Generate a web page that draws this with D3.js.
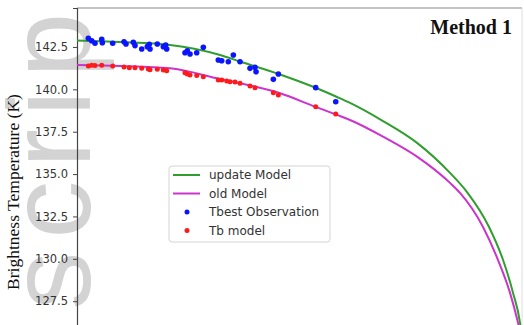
<!DOCTYPE html>
<html>
<head>
<meta charset="utf-8">
<script src="https://cdn.jsdelivr.net/npm/d3@7"></script>
<style>
  body { margin: 0; background: #fff; }
  svg { display: block; }
</style>
</head>
<body>
<svg id="chart" width="524" height="325"></svg>
<script>
// incidence angle (deg) vs brightness temperature (K)
var updateAngle = [0, 8.70, 18.81, 28.92, 32.97, 41.06, 48.14, 52.59, 55.22, 61.89, 68.77, 75.44, 78.88, 83.33, 86.17, 88.19, 89.60, 90];
var updateTb    = [142.88, 142.79, 142.62, 142.03, 141.64, 140.88, 140.11, 139.55, 139.20, 138.13, 136.84, 135.07, 133.94, 131.88, 129.93, 127.99, 126.22, 125.3];

var oldAngle = [0, 8.70, 18.81, 28.92, 32.97, 41.06, 48.14, 52.59, 55.22, 61.89, 68.77, 75.44, 77.46, 82.12, 85.15, 87.58, 89.20, 90];
var oldTb    = [141.44, 141.38, 141.24, 140.61, 140.36, 139.77, 138.98, 138.49, 138.19, 137.21, 136.03, 134.48, 133.89, 131.88, 129.93, 127.99, 126.22, 125.2];

var obsAngle = [2.29, 2.97, 3.64, 5.00, 5.12, 7.22, 9.51, 9.91, 11.39, 11.73, 13.09, 14.22, 14.62, 14.77, 16.24, 17.46, 17.94, 18.14,
                21.84, 22.31, 22.86, 24.21, 25.55, 28.58, 29.27, 30.60, 31.62, 32.97, 34.99, 36.00, 36.21, 39.71, 40.72, 48.28, 52.33];
var obsTb    = [143.01, 142.87, 142.72, 142.95, 142.75, 142.72, 142.81, 142.68, 142.78, 142.58, 142.38, 142.52, 142.66, 142.38, 142.68, 142.52, 142.62, 142.38,
                142.16, 142.28, 142.09, 142.16, 142.48, 141.73, 141.69, 141.63, 142.03, 141.63, 141.24, 141.30, 141.04, 140.59, 140.91, 140.10, 139.27];

var tbAngle = [2.29, 2.97, 3.64, 5.00, 7.22, 9.51, 10.58, 11.73, 13.09, 14.42, 14.77, 16.24, 17.46, 18.14, 21.84, 22.31, 22.86, 24.21,
               25.55, 28.58, 29.27, 30.28, 30.95, 31.96, 32.97, 34.99, 36.00, 39.71, 40.72, 48.28, 52.33];
var tbModel = [141.38, 141.42, 141.40, 141.42, 141.38, 141.32, 141.28, 141.28, 141.24, 141.20, 141.16, 141.18, 141.14, 141.10, 140.98, 140.91, 140.85, 140.81,
               140.75, 140.55, 140.55, 140.49, 140.45, 140.43, 140.36, 140.20, 140.10, 139.80, 139.67, 138.98, 138.55];

var yTicks = [127.5, 130.0, 132.5, 135.0, 137.5, 140.0, 142.5];
var legendLabels = ["update Model", "old Model", "Tbest Observation", "Tb model"];

var svg = d3.select("#chart");
// note: "top" is taken by window.top, so plot edges get a prefix
var plotLeft = 77, plotRight = 522, plotTop = 8, plotBottom = 330;

var x = d3.scaleLinear().domain([0, 90]).range([plotLeft, plotRight]);
var y = d3.scaleLinear().domain([125.8, 144.8]).range([plotBottom, plotTop]);

function zip(a, b) {
    return a.map(function (d, i) { return [d, b[i]]; });
}

//Watermark behind everything
svg.append("text")
    .attr("transform", "translate(90,652) rotate(-90)")
    .attr("font-family", "Liberation Sans, Arial, sans-serif")
    .attr("font-size", 116)
    .attr("letter-spacing", 13)
    .attr("fill", "#d3d3d3")
    .text("Manuscript");

//Frame: top and right sides
svg.append("line")
    .attr("x1", plotLeft).attr("x2", plotRight).attr("y1", plotTop).attr("y2", plotTop)
    .attr("stroke", "#8a8a8a").attr("stroke-width", 1.2);
svg.append("line")
    .attr("x1", plotRight).attr("x2", plotRight).attr("y1", plotTop).attr("y2", 325)
    .attr("stroke", "#dddddd").attr("stroke-width", 1);

//Y axis
var yAxis = svg.append("g")
    .attr("transform", "translate(" + plotLeft + ",0)")
    .call(d3.axisLeft(y).tickValues(yTicks).tickFormat(d3.format(".1f")).tickSize(4).tickPadding(5));
yAxis.select(".domain").attr("stroke", "#444").attr("stroke-width", 1.2);
yAxis.selectAll(".tick line").attr("stroke", "#444");
yAxis.selectAll(".tick text")
    .attr("font-family", "DejaVu Sans, sans-serif")
    .attr("font-size", 11.5)
    .attr("fill", "#333");

svg.append("text")
    .attr("transform", "translate(19,192) rotate(-90)")
    .attr("text-anchor", "middle")
    .attr("font-family", "Liberation Serif, Times New Roman, serif")
    .attr("font-size", 17.5)
    .attr("fill", "#111")
    .text("Brightness Temperature (K)");

var line = d3.line()
    .x(function (d) { return x(d[0]); })
    .y(function (d) { return y(d[1]); })
    .curve(d3.curveMonotoneX);

var plot = svg.append("g");

plot.append("path")
    .datum(zip(updateAngle, updateTb))
    .attr("d", line)
    .attr("fill", "none")
    .attr("stroke", "#2f9e2f")
    .attr("stroke-width", 2);

plot.append("path")
    .datum(zip(oldAngle, oldTb))
    .attr("d", line)
    .attr("fill", "none")
    .attr("stroke", "#cc33cc")
    .attr("stroke-width", 2);

plot.selectAll(".obs")
    .data(zip(obsAngle, obsTb))
    .enter().append("circle")
    .attr("class", "obs")
    .attr("cx", function (d) { return x(d[0]); })
    .attr("cy", function (d) { return y(d[1]); })
    .attr("r", 2.8)
    .attr("fill", "#0a14ff");

plot.selectAll(".tbm")
    .data(zip(tbAngle, tbModel))
    .enter().append("circle")
    .attr("class", "tbm")
    .attr("cx", function (d) { return x(d[0]); })
    .attr("cy", function (d) { return y(d[1]); })
    .attr("r", 2.5)
    .attr("fill", "#ff1a1a");

//Title in corner
svg.append("text")
    .attr("x", 512).attr("y", 34)
    .attr("text-anchor", "end")
    .attr("font-family", "Liberation Serif, Times New Roman, serif")
    .attr("font-weight", "bold")
    .attr("font-size", 20)
    .attr("fill", "#111")
    .text("Method 1");

//Legend
var legend = svg.append("g").attr("transform", "translate(169,166)");
legend.append("rect")
    .attr("width", 161).attr("height", 76)
    .attr("rx", 3)
    .attr("fill", "#fff").attr("fill-opacity", 0.85)
    .attr("stroke", "#d4d4d4");

var legendColors = ["#2f9e2f", "#cc33cc", "#0a14ff", "#ff1a1a"];
legendLabels.forEach(function (label, i) {
    var ly = 9 + i * 18.5;
    if (i < 2) {
        legend.append("line")
            .attr("x1", 4).attr("x2", 31).attr("y1", ly).attr("y2", ly)
            .attr("stroke", legendColors[i]).attr("stroke-width", 2);
    } else {
        legend.append("circle")
            .attr("cx", 18).attr("cy", ly).attr("r", 2.5)
            .attr("fill", legendColors[i]);
    }
    legend.append("text")
        .attr("x", 40).attr("y", ly + 4)
        .attr("font-family", "DejaVu Sans, sans-serif")
        .attr("font-size", 12)
        .attr("fill", "#333")
        .text(label);
});
</script>
</body>
</html>
